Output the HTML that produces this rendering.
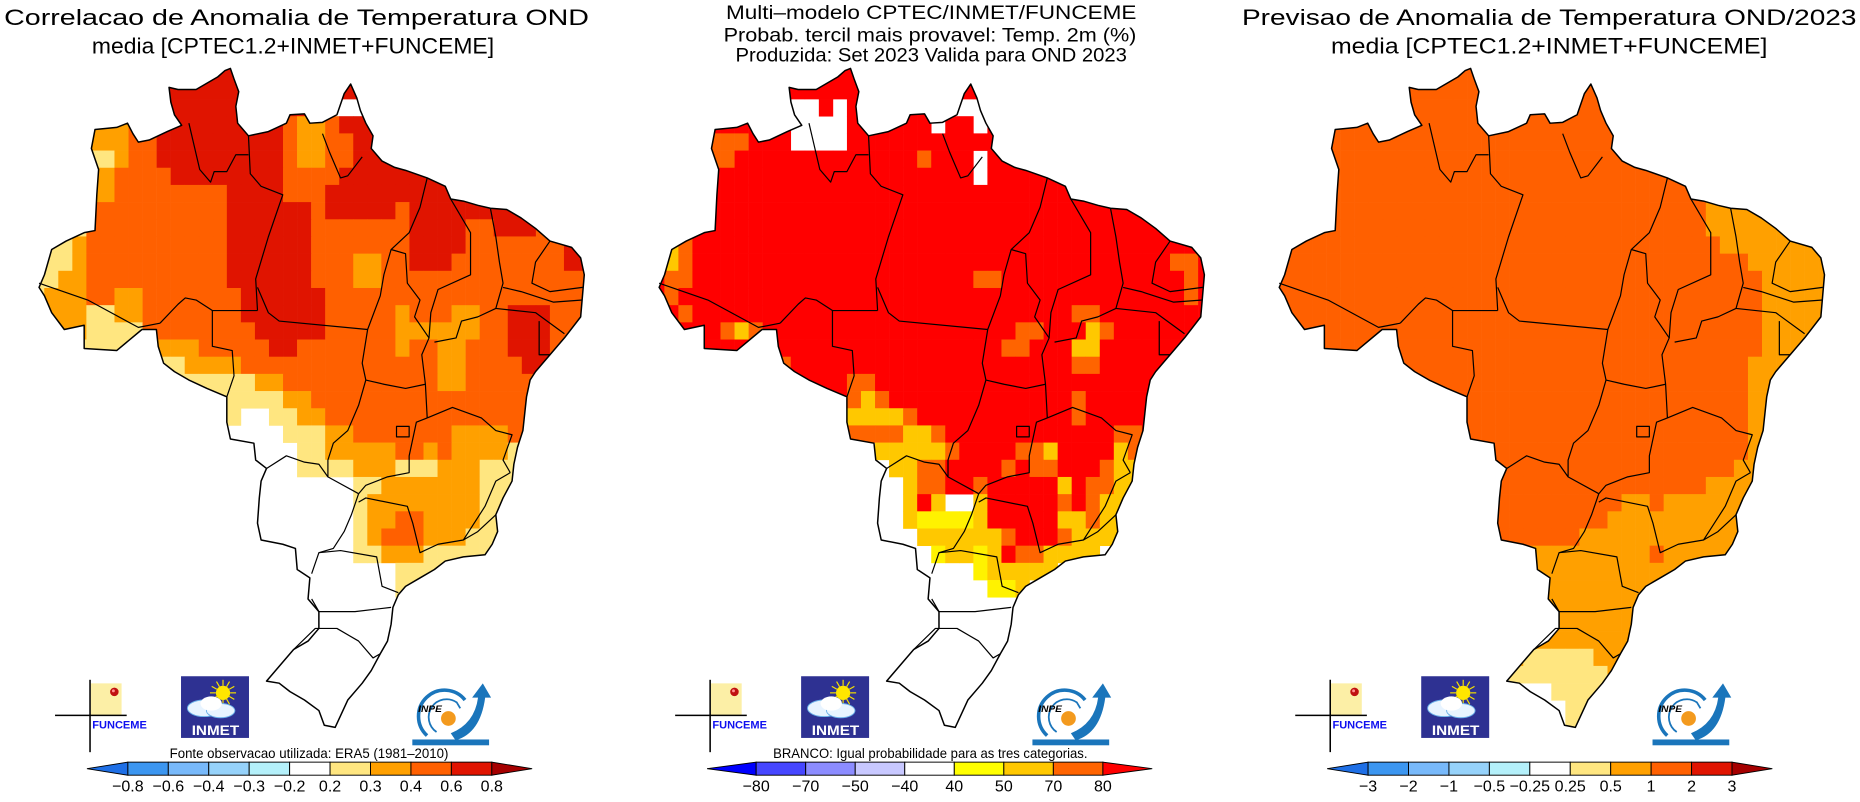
<!DOCTYPE html>
<html><head><meta charset="utf-8">
<style>
html,body{margin:0;padding:0;background:#fff;}
svg{display:block;}
text{font-family:"Liberation Sans",sans-serif;fill:#000;}
</style></head>
<body>
<svg id="root" width="1860" height="802" viewBox="0 0 1568 676" preserveAspectRatio="none" xmlns="http://www.w3.org/2000/svg">
<defs>
<clipPath id="brclip" clipPathUnits="userSpaceOnUse"><path id="brpath" d=""/></clipPath>
</defs>
<g id="panels"></g>
</svg>
<script>
// ---- data ----
const panelTitles = [
  ["Correlacao de Anomalia de Temperatura OND","media [CPTEC1.2+INMET+FUNCEME]"],
  ["Multi\u2013modelo CPTEC/INMET/FUNCEME","Probab. tercil mais provavel: Temp. 2m (%)","Produzida: Set 2023  Valida para OND 2023"],
  ["Previsao de Anomalia de Temperatura OND/2023","media [CPTEC1.2+INMET+FUNCEME]"]
];
const notes = ["Fonte observacao utilizada: ERA5 (1981\u20132010)","BRANCO: Igual probabilidade para as tres categorias.",""];
const ticks1 = ["\u22120.8","\u22120.6","\u22120.4","\u22120.3","\u22120.2","0.2","0.3","0.4","0.6","0.8"];
const ticks2 = ["\u221280","\u221270","\u221250","\u221240","40","50","70","80"];
const ticks3 = ["\u22123","\u22122","\u22121","\u22120.5","\u22120.25","0.25","0.5","1","2","3"];
const bar1Colors = ["#1e6fe6","#3c96f0","#78b9fa","#96d2fa","#b4f0fa","#ffffff","#ffe680","#ffa000","#ff6000","#e01400","#a50000"];
const bar2Colors = ["#0000ff","#4646ff","#8c8cff","#c8c8ff","#ffffff","#ffff00","#ffc800","#ff6400","#ff0000"];
const cellColors1 = {w:"#ffffff",y:"#ffe680",o:"#ffa000",r:"#ff6000",d:"#e01400"};
const cellColors2 = {w:"#ffffff",Y:"#fff200",G:"#ffc800",O:"#ff6400",R:"#ff0000"};
const R=(c,n)=>c.repeat(n);
const grid1 = [
 R("d",40),R("d",40),R("d",21)+"www"+R("d",16),
 R("o",7)+"rr"+R("d",9)+"r"+"oo"+"r"+R("d",18),
 R("o",7)+"rr"+R("d",9)+"r"+"oo"+"rr"+R("d",17),
 R("y",6)+"o"+"rr"+R("d",9)+"r"+"oo"+"rr"+R("d",17),
 R("o",6)+"rrrr"+R("d",8)+"rrrr"+R("d",18),
 R("o",6)+R("r",8)+"dddd"+"rrr"+R("d",19),
 R("r",14)+R("d",6)+"r"+R("d",5)+"r"+R("d",13),
 "yyyy"+R("r",10)+R("d",6)+R("r",7)+"dddd"+"rr"+"ddd"+"rrrr",
 "yyy"+"o"+R("r",10)+R("d",6)+R("r",7)+"dddd"+R("r",7)+"dd",
 "yyy"+"o"+R("r",10)+R("d",6)+"rrr"+"oo"+"rr"+"ddd"+R("r",8)+"dd",
 "yy"+"oo"+R("r",10)+R("d",6)+"rrr"+"oo"+R("r",15),
 "y"+"ooo"+"rr"+"oo"+R("r",7)+R("d",6)+R("r",19),
 "oooo"+"yy"+"oo"+R("r",7)+R("d",6)+R("r",5)+"o"+"rrr"+"oo"+"rr"+"ddd"+"rrr",
 "oooo"+"yyyy"+R("r",8)+R("d",5)+R("r",5)+R("o",6)+"rr"+"ddd"+"rrr",
 R("y",9)+"ooo"+R("r",5)+"dd"+R("r",7)+"o"+"rr"+"oo"+"rrr"+"ddd"+"rrr",
 R("y",11)+"oooo"+R("r",14)+"oo"+"rrrr"+"dd"+"rrr",
 R("y",16)+"oo"+R("r",11)+"oo"+R("r",9),
 R("y",18)+"oo"+R("r",20),
 R("y",15)+"ww"+"yy"+"oo"+R("r",19),
 R("w",18)+"yyy"+"oo"+R("r",7)+"oooo"+R("r",6),
 R("w",19)+"yy"+R("o",5)+"rr"+"o"+"r"+"oooo"+R("y",6),
 R("w",19)+"yyyy"+"ooo"+"yyy"+"ooo"+R("y",8),
 R("w",23)+"yy"+R("o",7)+R("y",8),
 R("w",23)+"y"+R("o",8)+R("y",8),
 R("w",23)+"y"+"oo"+"rr"+"oooo"+R("y",8),
 R("w",23)+"y"+"o"+"rrr"+"ooo"+R("y",9),
 R("w",23)+"yy"+"ooo"+R("y",12),
 R("w",26)+R("y",14),
 R("w",26)+"yy"+R("w",12),
 R("w",40),R("w",40),R("w",40),R("w",40),R("w",40),R("w",40),R("w",40),R("w",40)
];
const grid2 = [
 R("R",40),R("R",40),
 R("R",10)+"ww"+"R"+"w"+R("R",7)+"www"+R("R",16),
 R("R",10)+"wwww"+R("R",6)+"w"+"RR"+"w"+R("R",16),
 R("R",4)+"OOO"+"RRR"+"wwww"+R("R",26),
 R("R",4)+"OO"+R("R",13)+"O"+"RRR"+"w"+R("R",16),
 R("R",23)+"w"+R("R",16),
 R("R",40),R("R",40),R("R",40),
 "R"+"G"+"O"+R("R",37),
 "R"+"G"+"O"+R("R",34)+"OO"+"R",
 "R"+"OO"+R("R",20)+"OO"+R("R",13)+"O"+"R",
 "R"+"O"+R("R",36)+"O"+"R",
 "RR"+"O"+R("R",27)+"OO"+R("R",8),
 R("R",5)+"O"+"G"+"O"+R("R",18)+"OO"+"RRR"+"G"+"O"+R("R",7),
 R("R",25)+"OO"+"RRR"+"GG"+R("R",8),
 R("R",9)+"O"+R("R",20)+"OO"+R("R",8),
 R("R",14)+"OO"+R("R",24),
 R("R",14)+"O"+"G"+"O"+R("R",13)+"O"+R("R",9),
 R("R",14)+"GGGG"+"O"+R("R",11)+"O"+R("R",9),
 R("w",14)+"OOOO"+"GG"+"O"+R("R",12)+"OO"+R("R",5),
 R("w",16)+"GGGGG"+"O"+"RRRR"+"OO"+"G"+"RRRR"+"G"+"O"+R("R",5),
 R("w",17)+"GG"+"OO"+"RRRR"+"O"+"R"+"OO"+"RRR"+"O"+"GG"+R("w",5),
 R("w",18)+"G"+"OO"+"RR"+"O"+R("R",5)+"G"+"R"+"OO"+"GG"+R("w",5),
 R("w",18)+"G"+"R"+"G"+"ww"+"G"+R("R",5)+"O"+"R"+"O"+"GG"+R("w",6),
 R("w",18)+"G"+"YYYY"+"G"+R("R",5)+"GG"+"O"+"GG"+R("w",6),
 R("w",19)+R("G",6)+"O"+"RRR"+"O"+"GGGG"+R("w",6),
 R("w",20)+"Y"+"GG"+"Y"+"G"+"R"+"OO"+"GGGG"+R("w",8),
 R("w",23)+"Y"+"GGGGG"+R("w",11),
 R("w",24)+"YY"+"G"+R("w",13),
 R("w",40),R("w",40),R("w",40),R("w",40),R("w",40),R("w",40),R("w",40),R("w",40)
];
const grid3 = [
 R("r",40),R("r",40),R("r",40),R("r",40),R("r",40),R("r",40),R("r",40),R("r",40),
 R("r",31)+R("o",9),R("r",31)+R("o",9),
 R("r",32)+R("o",8),
 R("r",34)+R("o",6),
 R("r",35)+R("o",5),R("r",35)+R("o",5),R("r",35)+R("o",5),R("r",35)+R("o",5),R("r",35)+R("o",5),
 R("r",34)+R("o",6),R("r",34)+R("o",6),R("r",34)+R("o",6),R("r",34)+R("o",6),R("r",34)+R("o",6),R("r",34)+R("o",6),
 R("r",33)+R("o",7),
 R("r",31)+R("o",9),
 R("r",25)+"oo"+"r"+R("o",12),
 R("r",24)+R("o",16),
 R("r",22)+R("o",18),
 R("o",27)+"r"+R("o",12),
 R("o",40),R("o",40),R("o",40),R("o",40),R("o",40),
 R("o",18)+R("y",5)+R("o",17),
 R("w",17)+R("y",7)+R("o",16),
 R("w",20)+R("y",4)+R("o",16),
 R("w",21)+R("y",3)+R("o",16),
 R("w",21)+R("y",3)+R("o",16)
];

// ---- geometry (layout) ----
const NS="http://www.w3.org/2000/svg";
const outline="M555,20 L565,45 578,75 570,110 575,150 605,180 660,170 710,150 720,130 760,128 775,150 810,148 850,130 870,80 888,57 905,90 915,120 930,150 950,180 945,210 975,240 1010,255 1040,262 1100,280 1150,300 1165,330 1200,335 1240,345 1275,352 1320,355 1360,375 1400,400 1440,430 1500,445 1525,470 1535,510 1530,560 1525,610 1480,660 1440,700 1400,740 1385,760 1375,800 1370,840 1365,880 1350,920 1340,960 1335,1000 1310,1040 1290,1080 1295,1120 1280,1150 1260,1175 1200,1180 1150,1190 1120,1210 1080,1230 1040,1250 1020,1270 1005,1300 1000,1340 990,1380 970,1410 945,1450 920,1480 880,1520 845,1585 815,1580 800,1545 760,1520 720,1500 690,1480 655,1475 700,1430 730,1400 770,1380 800,1350 800,1310 770,1280 775,1230 740,1210 735,1160 700,1150 640,1140 630,1100 635,1040 640,1000 655,970 625,950 620,910 555,900 545,860 545,800 490,780 440,760 400,740 370,720 355,680 350,640 310,640 240,690 150,685 150,630 95,640 60,600 40,560 25,540 40,510 60,450 100,430 150,410 180,405 185,320 190,260 170,210 180,165 240,160 270,150 285,175 300,195 330,190 380,170 420,155 400,130 390,100 385,65 410,70 460,70 520,40 540,25 Z";
const stateLines=[
"M440,150 470,260 500,290 510,265 545,265 570,225 605,225",
"M605,180 610,270 640,300 700,320 660,420 625,520 630,595",
"M25,530 160,570 300,635 360,625",
"M360,625 410,580 430,565 460,570 505,595 630,595",
"M505,595 505,680 560,690 565,750 545,800",
"M630,540 660,600 690,620 935,640",
"M810,175 830,220 860,280 880,275 920,230",
"M1100,280 1080,350 1050,410 1000,450 980,510 970,560 935,640 920,720 930,760",
"M1000,450 1040,460 1045,530 1080,570 1065,610 1105,660 1085,700 1095,770 1100,850",
"M930,760 980,770 1040,780 1095,770",
"M1165,330 1220,410 1220,510 1130,545 1110,600 1105,660",
"M1275,352 1290,420 1300,480 1310,530 1290,590 1240,610 1195,620 1180,660 1120,670",
"M1440,430 1400,480 1390,530 1440,550 1530,540",
"M1310,540 1360,550 1450,575 1530,570",
"M1290,590 1400,600 1480,650",
"M1410,620 1410,700 1440,700",
"M1100,850 1170,825 1250,850 1290,880 1335,890 1310,950 1330,980",
"M930,760 910,820 880,880 840,910 825,950 825,990 910,1030",
"M1100,850 1070,860 1050,940 1050,980 990,990 930,1010 910,1030",
"M655,970 710,940 760,955 800,960 825,990",
"M910,1030 890,1080 870,1120 840,1160 800,1170 780,1220",
"M910,1050 930,1040 1045,1060 1060,1100 1080,1170 1130,1150 1200,1140 1260,1060 1290,1000 1330,980",
"M1290,1080 1240,1120 1200,1140",
"M800,1170 860,1165 960,1180 975,1250 1020,1265",
"M780,1280 800,1310 900,1310 1000,1300",
"M730,1400 790,1350 850,1350 910,1380 950,1420 970,1410",
"M1015,870 1050,870 1050,895 1015,895 Z"
];
document.getElementById('brpath').setAttribute('d',outline);
const CW=38.9, CH=40.8, X0=0.5, Y0=11;
const PW=522.75;
const panelsG=document.getElementById('panels');
function mk(tag,attrs,parent){const e=document.createElementNS(NS,tag);for(const k in attrs)e.setAttribute(k,attrs[k]);if(parent)parent.appendChild(e);return e;}

const grids=[grid1,grid2,grid3];
const cmaps=[cellColors1,cellColors2,cellColors1];
const titleSpecs=[
 [[250,21,493,19],[247,45,339,19]],
 [[785,16,346,16],[784,35,348,16],[785,52,330,16]],
 [[1306,21,518,19],[1306,45,368,19]]
];
const panelNames=["correlation-panel","probability-panel","anomaly-forecast-panel"];

for(let p=0;p<3;p++){
  const ox=p*PW;
  const pg=mk('g',{},panelsG);
  
  
  // titles
  panelTitles[p].forEach((t,i)=>{
    const s=titleSpecs[p][i];
    const tx=mk('text',{x:s[0],y:s[1],'text-anchor':'middle','font-size':s[3],textLength:s[2],lengthAdjust:'spacingAndGlyphs'},pg);
    
    
    tx.textContent=t;
  });
  // map
  const mg=mk('g',{transform:`translate(${25.3+ox},50.6) scale(0.3044,0.3549)`},pg);
  
  
  const cg=mk('g',{'clip-path':'url(#brclip)'},mg);
  const g=grids[p], cm=cmaps[p];
  g.forEach((row,r)=>{
    for(let c=0;c<row.length;c++){
      const col=cm[row[c]];
      if(!col||col==="#ffffff")continue;
      const rc=mk('rect',{x:X0+c*CW,y:Y0+r*CH,width:CW+0.8,height:CH+0.8,fill:col},cg);
      
      
    }
  });
  const ol=mk('path',{d:outline,fill:'none',stroke:'#000','stroke-width':1.5,'vector-effect':'non-scaling-stroke','stroke-linejoin':'round'},mg);
  
  
  stateLines.forEach(d=>{
    const sl=mk('path',{d:'M'+d.slice(1).replace(/^(\d)/,'$1'),fill:'none',stroke:'#000','stroke-width':1.2,'vector-effect':'non-scaling-stroke','stroke-linejoin':'round'},mg);
    
    
  });
  // logos
  const lg=mk('g',{transform:`translate(${ox},0)`},pg);
  
  
  const fg=mk('g',{},lg);
  
  
  mk('rect',{x:76.5,y:576,width:26,height:27,fill:'#fcefa6'},fg);
  mk('line',{x1:75.9,y1:573,x2:75.9,y2:634,stroke:'#000','stroke-width':1.3},fg);
  mk('line',{x1:46.4,y1:603,x2:106.8,y2:603,stroke:'#000','stroke-width':1.3},fg);
  mk('circle',{cx:96.4,cy:583.2,r:3.6,fill:'#c01010'},fg);
  mk('circle',{cx:95.6,cy:582.3,r:1.2,fill:'#ff9090'},fg);
  const ft=mk('text',{x:77.8,y:613.9,'font-size':9.5,'font-weight':'bold',textLength:46,lengthAdjust:'spacingAndGlyphs',style:'fill:#1010f0'},fg);
  ft.textContent="FUNCEME";
  const ig=mk('g',{},lg);
  
  
  mk('rect',{x:152.6,y:570,width:57.3,height:52,fill:'#2e3192'},ig);
  for(let k=0;k<12;k++){const a=k*Math.PI/6;mk('line',{x1:188+Math.cos(a)*6,y1:584+Math.sin(a)*6,x2:188+Math.cos(a)*11,y2:584+Math.sin(a)*11,stroke:'#f5e000','stroke-width':1},ig);}
  mk('circle',{cx:188,cy:584,r:6,fill:'#ffe600'},ig);
  mk('ellipse',{cx:172,cy:597,rx:14,ry:7,fill:'#e8f4ff',stroke:'#6ab0e8','stroke-width':0.8},ig);
  mk('ellipse',{cx:186,cy:599,rx:12,ry:6,fill:'#e8f4ff',stroke:'#6ab0e8','stroke-width':0.8},ig);
  mk('ellipse',{cx:178,cy:593,rx:9,ry:6,fill:'#ffffff'},ig);
  const it=mk('text',{x:161.6,y:619.7,'font-size':12,'font-weight':'bold',textLength:40,lengthAdjust:'spacingAndGlyphs',style:'fill:#fff'},ig);
  it.textContent="INMET";
  const ng=mk('g',{},lg);
  
  
  mk('path',{d:'M360,620 A22,22 0 1 1 392,590',fill:'none',stroke:'#1a75bb','stroke-width':3},ng);
  mk('path',{d:'M368,617 A14,14 0 1 1 385,592 L388,597',fill:'none',stroke:'#1a75bb','stroke-width':1.5},ng);
  mk('path',{d:'M380,618 Q400,610 403,588 L398,588 L407,576 L414,588 L409,588 Q405,618 384,624 Z',fill:'#1a75bb'},ng);
  mk('circle',{cx:378,cy:605.6,r:6.2,fill:'#f39a1e'},ng);
  const nt=mk('text',{x:352.5,y:600,'font-size':8,'font-style':'italic','font-weight':'bold',textLength:20,lengthAdjust:'spacingAndGlyphs'},ng);
  nt.textContent="INPE";
  mk('rect',{x:347.6,y:623.3,width:64.7,height:4.9,fill:'#1a75bb'},ng);
  // note
  if(notes[p]){
    const nx=p===0?[143,235]:[129,265];
    const n=mk('text',{x:ox+nx[0],y:639,'font-size':12,textLength:nx[1],lengthAdjust:'spacingAndGlyphs'},pg);
    
    
    n.textContent=notes[p];
  }
  // colorbar
  const cb=mk('g',{transform:`translate(${ox},0)`},pg);
  
  
  const cols=p===1?bar2Colors:bar1Colors;
  const ticks=p===0?ticks1:(p===1?ticks2:ticks3);
  const bx0=p===1?114.7:107.8, bx1=p===1?407:414.6, tipL=73.3, tipR=448.6, y0=642.4, y1=653.4;
  const nb=cols.length-2, bw=(bx1-bx0)/nb;
  const lt=mk('polygon',{points:`${tipL},${(y0+y1)/2} ${bx0},${y0} ${bx0},${y1}`,fill:cols[0],stroke:'#000','stroke-width':0.8},cb);
  
  
  for(let i=0;i<nb;i++){
    const b=mk('rect',{x:bx0+i*bw,y:y0,width:bw,height:y1-y0,fill:cols[i+1],stroke:'#000','stroke-width':0.8},cb);
    
    
  }
  const rt=mk('polygon',{points:`${tipR},${(y0+y1)/2} ${bx1},${y0} ${bx1},${y1}`,fill:cols[cols.length-1],stroke:'#000','stroke-width':0.8},cb);
  
  
  ticks.forEach((t,i)=>{
    const tx=mk('text',{x:bx0+i*bw,y:667,'font-size':13.5,'text-anchor':'middle'},cb);
    
    
    tx.textContent=t;
  });
}
</script>
</body></html>
